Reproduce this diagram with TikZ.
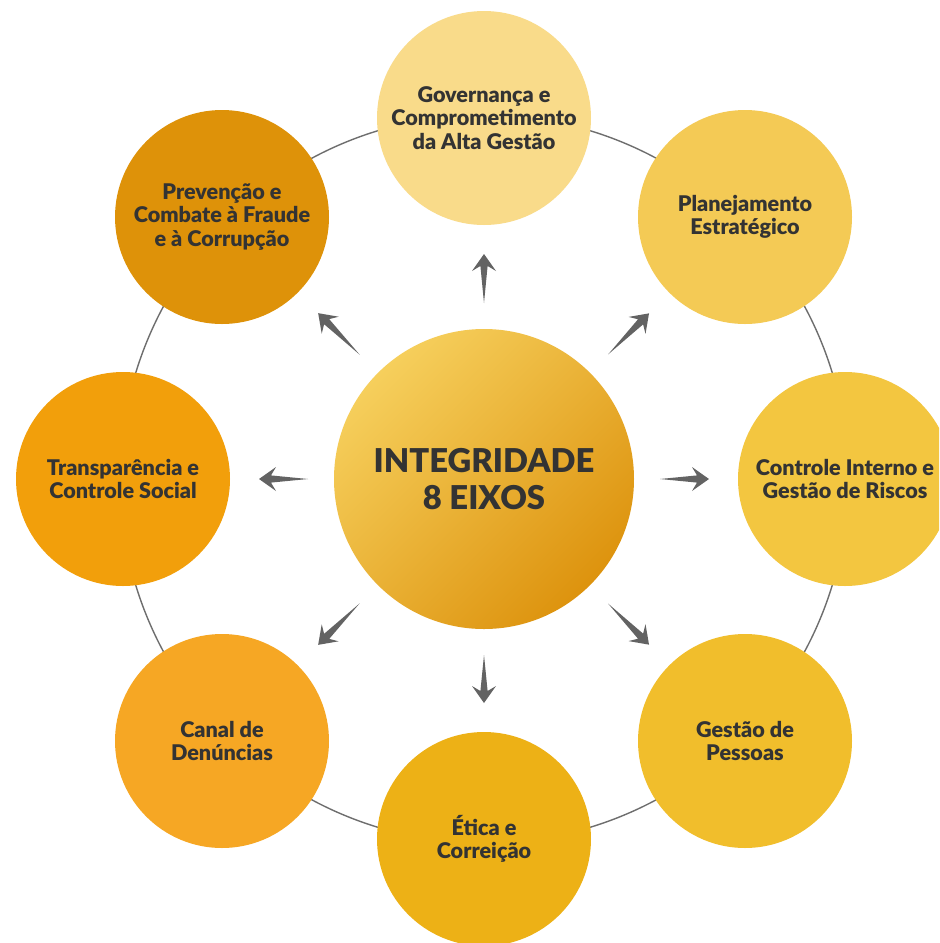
\documentclass[tikz,border=0pt]{standalone}
\usepackage{fontspec}
\setmainfont{Lato}
\newfontfamily\heavyfont{Lato Black}
\usepackage{tikz}
\usetikzlibrary{positioning,arrows.meta,calc}
\definecolor{ink}{HTML}{333333}
\definecolor{arrgray}{HTML}{636363}
\definecolor{ringgray}{HTML}{6E6E6E}
\definecolor{cgov}{HTML}{F9DB8A}
\definecolor{cplan}{HTML}{F4CA55}
\definecolor{cctrl}{HTML}{F3C640}
\definecolor{cpess}{HTML}{F1BE2C}
\definecolor{cetica}{HTML}{EDB116}
\definecolor{ccanal}{HTML}{F6A724}
\definecolor{ctransp}{HTML}{F29F0B}
\definecolor{cprev}{HTML}{DE9209}
\definecolor{ctrtop}{HTML}{F6CF5C}
\definecolor{ctrbot}{HTML}{DD930E}
\tikzstyle{ring} = [draw=ringgray, line width=0.7pt]

\begin{document}
\begin{tikzpicture}[x=0.5pt, y=-0.5pt,
    E/.style = {circle, fill=#1, minimum size=107pt, inner sep=0pt, outer sep=0pt,
                align=center, text=ink, font=\heavyfont\fontsize{10.8}{11.6}\selectfont},
    E/.default=cgov]
    \clip (0,0) rectangle (939,943);
    \fill[white] (0,0) rectangle (939,943);
    \coordinate (o) at (484,479);
    \draw[ring] (o) circle (182pt);

    \node (ctr) [circle, minimum size=150pt, inner sep=0pt, outer sep=0pt,
                 top color=ctrtop, bottom color=ctrbot, shading angle=45,
                 align=center, text=ink, font=\heavyfont\fontsize{16.4}{18.5}\selectfont]
                 at (o) {INTEGRIDADE\\8 EIXOS};

    \node (gov) [E=cgov] at (484,118) {Governança e\\Comprometimento\\da Alta Gestão};
    \node (plan) [E=cplan] at (745,217) {Planejamento\\Estratégico};
    \node (ctrl) [E=cctrl] at (845,479) {Controle Interno e\\Gestão de Riscos};
    \node (pess) [E=cpess] at (745,741) {Gestão de\\Pessoas};
    \node (etica) [E=cetica] at (484,839) {Ética e\\Correição};
    \node (canal) [E=ccanal] at (222,741) {Canal de\\Denúncias};
    \node (transp) [E=ctransp] at (123,479) {Transparência e\\Controle Social};
    \node (prev) [E=cprev] at (222,217) {Prevenção e\\Combate à Fraude\\e à Corrupção};

    % tapered arrows, tail near the centre, tip near each axis
    \foreach \n in {gov,plan,ctrl,pess,etica,canal,transp,prev} {
        \coordinate (t) at ($(ctr.center)!88pt!(\n.center)$);
        \coordinate (h) at ($(\n.center)!68pt!(ctr.center)$);
        \coordinate (b) at ($(h)!8.5pt!(t)$);
        \coordinate (k) at ($(h)!6pt!(t)$);
        \fill[arrgray] (t) -- ($(k)!1.8pt!90:(t)$) -- ($(b)!6pt!90:(t)$) -- (h)
            -- ($(b)!6pt!-90:(t)$) -- ($(k)!1.8pt!-90:(t)$) -- cycle;
    }
\end{tikzpicture}
\end{document}
